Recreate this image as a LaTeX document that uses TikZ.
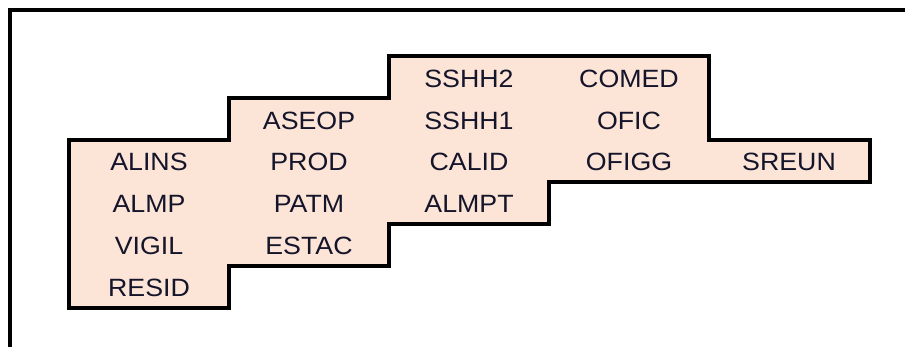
\documentclass[tikz,border=0pt]{standalone}
\usepackage{fontspec}
\setmainfont{Liberation Sans}
\definecolor{peach}{HTML}{FCE4D6}
\definecolor{txt}{HTML}{14142A}
\begin{document}
\begin{tikzpicture}[x=1pt,y=-1pt,
  lbl/.style={font=\fontsize{25}{25}\selectfont, text=txt, inner sep=0pt, anchor=base, xscale=1.07},
  outline/.style={line width=3.5pt, line join=miter}]
\useasboundingbox (0,0) rectangle (905,347);
\fill[white] (0,0) rectangle (905,347);
% outer frame (cut off at right and bottom)
\draw[outline] (10,350) -- (10,10) -- (910,10);
% stepped region
\draw[outline, fill=peach] (69,140) -- (229,140) -- (229,98) -- (389,98) -- (389,56) -- (709,56) -- (709,140) -- (870,140) -- (870,182) -- (549,182) -- (549,224) -- (389,224) -- (389,266) -- (229,266) -- (229,308) -- (69,308) -- cycle;
% labels (base lines)
\node[lbl] (sshh2) at (469,88) {SSHH2};
\node[lbl] (comed) at (629,88) {COMED};
\node[lbl] (aseop) at (309,130) {ASEOP};
\node[lbl] (sshh1) at (469,130) {SSHH1};
\node[lbl] (ofic) at (629,130) {OFIC};
\node[lbl] (alins) at (149,171) {ALINS};
\node[lbl] (prod) at (309,171) {PROD};
\node[lbl] (calid) at (469,171) {CALID};
\node[lbl] (ofigg) at (629,171) {OFIGG};
\node[lbl] (sreun) at (789,171) {SREUN};
\node[lbl] (almp) at (149,213) {ALMP};
\node[lbl] (patm) at (309,213) {PATM};
\node[lbl] (almpt) at (469,213) {ALMPT};
\node[lbl] (vigil) at (149,255) {VIGIL};
\node[lbl] (estac) at (309,255) {ESTAC};
\node[lbl] (resid) at (149,297) {RESID};
\end{tikzpicture}
\end{document}
